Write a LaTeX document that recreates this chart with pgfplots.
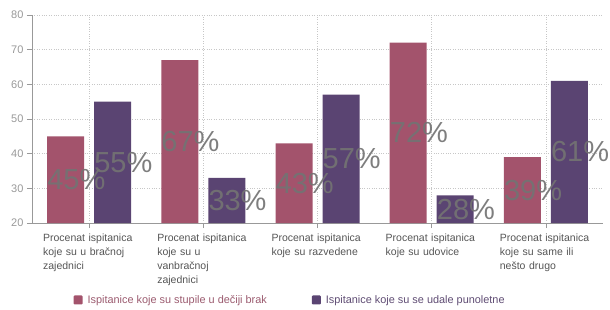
\documentclass[border=0pt]{standalone}
\usepackage{pgfplots}
\pgfplotsset{compat=1.18}
\usepackage{fontspec}
\setmainfont{Liberation Sans}
\definecolor{cred}{HTML}{A3536C}
\definecolor{cpur}{HTML}{5A4472}
\definecolor{tgray}{HTML}{737373}
\definecolor{axgray}{HTML}{999999}
\definecolor{lblgray}{HTML}{555555}
\begin{document}
\begin{tikzpicture}
\useasboundingbox (-32bp,-87bp) rectangle (578bp,223bp);
\begin{axis}[
  at={(0,0)}, anchor=south west,
  scale only axis, width=571bp, height=208bp,
  xmin=-0.5, xmax=4.5, ymin=20, ymax=80,
  ytick={20,30,...,80},
  xtick={0,1,2,3,4},
  xticklabels={
    {Procenat ispitanica\\koje su u bračnoj\\zajednici},
    {Procenat ispitanica\\koje su u\\vanbračnoj\\zajednici},
    {Procenat ispitanica\\koje su razvedene},
    {Procenat ispitanica\\koje su udovice},
    {Procenat ispitanica\\koje su same ili\\nešto drugo}},
  xticklabel style={align=left, text width=92bp, font=\fontsize{10.5bp}{14bp}\selectfont, text=lblgray, anchor=north, yshift=-2bp},
  yticklabel style={font=\fontsize{11bp}{13bp}\selectfont, text=axgray},
  /pgf/number format/assume math mode=true,
  axis x line*=bottom, axis y line*=left,
  axis line style={draw=axgray, line width=0.8bp},
  tick style={draw=axgray, line width=0.8bp},
  major tick length=5bp,
  xtick pos=bottom, ytick pos=left,
  tick align=outside,
  xmajorgrids, ymajorgrids,
  grid style={dotted, draw=black!22, line width=0.5bp},
  legend columns=2,
  legend style={at={(axis description cs:0.452,-0.37)}, anchor=center, draw=none,
    font=\fontsize{10.9bp}{13bp}\selectfont,
    /tikz/every odd column/.append style={column sep=3bp},
    /tikz/every even column/.append style={column sep=43bp}},
  legend image code/.code={\fill[#1, rounded corners=1bp] (0bp,-4.5bp) rectangle (9bp,4.5bp);},
]
\addplot[ybar, bar width=37bp, bar shift=-23.5bp, fill=cred, draw=none]
  coordinates {(0,45) (1,67) (2,43) (3,72) (4,39)};
\addlegendentry{\textcolor{cred!80!gray}{Ispitanice koje su stupile u dečiji brak}}
\addplot[ybar, bar width=37bp, bar shift=23.5bp, fill=cpur, draw=none]
  coordinates {(0,55) (1,33) (2,57) (3,28) (4,61)};
\addlegendentry{\textcolor{cpur!85!gray}{Ispitanice koje su se udale punoletne}}
% labels at bar middles
\addplot[draw=none, mark=none, forget plot, point meta=explicit symbolic,
  nodes near coords,
  every node near coord/.append style={anchor=west, xshift=-42bp, inner sep=0pt,
    font=\fontsize{29bp}{30bp}\selectfont, text=tgray, text opacity=0.92}]
  table[meta=l] {
x y l
0 32.5 45\%
1 43.5 67\%
2 31.5 43\%
3 46 72\%
4 29.5 39\%
};
\addplot[draw=none, mark=none, forget plot, point meta=explicit symbolic,
  nodes near coords,
  every node near coord/.append style={anchor=west, xshift=5bp, inner sep=0pt,
    font=\fontsize{29bp}{30bp}\selectfont, text=tgray, text opacity=0.92}]
  table[meta=l] {
x y l
0 37.5 55\%
1 26.5 33\%
2 38.5 57\%
3 24 28\%
4 40.5 61\%
};
\end{axis}
\end{tikzpicture}
\end{document}
